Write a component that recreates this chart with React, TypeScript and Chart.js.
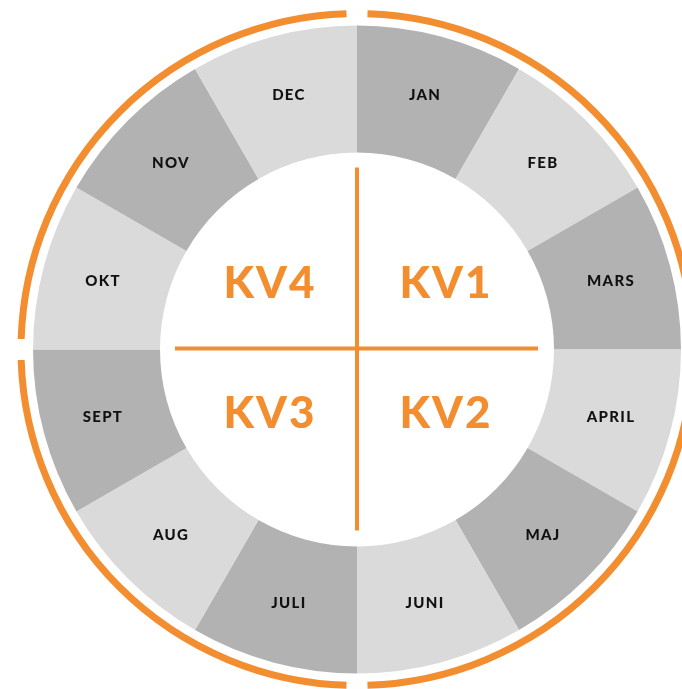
import React, { useEffect, useRef } from "react";
import { Chart, registerables } from "chart.js";

Chart.register(...registerables);

const months = ["JAN", "FEB", "MARS", "APRIL", "MAJ", "JUNI", "JULI", "AUG", "SEPT", "OKT", "NOV", "DEC"];
const monthValues = [1, 1, 1, 1, 1, 1, 1, 1, 1, 1, 1, 1];
const quarterLabels = ["KV1", "KV2", "KV3", "KV4"];

const DARK = "#b2b2b2";
const LIGHT = "#dadada";
const ORANGE = "#f28d30";

const overlayPlugin = {
  id: "overlay",
  afterDatasetsDraw(chart: any) {
    const ctx = chart.ctx;
    const meta = chart.getDatasetMeta(0);
    const arc0 = meta.data[0];
    const cx = arc0.x;
    const cy = arc0.y;
    const outer = arc0.outerRadius;
    ctx.save();
    // month labels
    ctx.fillStyle = "#111";
    ctx.font = "900 15px Lato, 'Open Sans', sans-serif";
    ctx.textAlign = "center";
    ctx.textBaseline = "middle";
    try { (ctx as any).letterSpacing = "1.3px"; } catch (e) {}
    const rLab = 263;
    meta.data.forEach((el: any, i: number) => {
      const mid = (el.startAngle + el.endAngle) / 2;
      const x = cx + Math.cos(mid) * rLab;
      const y = cy + Math.sin(mid) * rLab;
      ctx.fillText(months[i], x, y);
    });
    // outer orange ring
    const ringR = outer + 12;
    const gap = 10.5 / ringR;
    ctx.strokeStyle = ORANGE;
    ctx.lineWidth = 7;
    for (let k = 0; k < 4; k++) {
      const a0 = -Math.PI / 2 + (k * Math.PI) / 2 + gap;
      const a1 = -Math.PI / 2 + ((k + 1) * Math.PI) / 2 - gap;
      ctx.beginPath();
      ctx.arc(cx, cy, ringR, a0, a1);
      ctx.stroke();
    }
    // cross
    ctx.lineWidth = 4;
    ctx.beginPath();
    ctx.moveTo(cx - 182, cy - 1);
    ctx.lineTo(cx + 181, cy - 1);
    ctx.moveTo(cx, cy - 182);
    ctx.lineTo(cx, cy + 181);
    ctx.stroke();
    // quarter labels
    ctx.fillStyle = ORANGE;
    ctx.font = "900 44px Lato, 'Open Sans', sans-serif";
    try { (ctx as any).letterSpacing = "2px"; } catch (e) {}
    const pos = [
      [89, -66],
      [89, 64],
      [-87, 64],
      [-87, -66],
    ];
    quarterLabels.forEach((t, i) => {
      ctx.fillText(t, cx + pos[i][0], cy + pos[i][1]);
    });
    ctx.restore();
  },
};

export default function App() {
  const ref = useRef<HTMLCanvasElement>(null);
  useEffect(() => {
    if (!ref.current) return;
    const chart = new Chart(ref.current, {
      type: "doughnut",
      data: {
        labels: months,
        datasets: [
          {
            data: monthValues,
            backgroundColor: months.map((_, i) => (i % 2 === 0 ? DARK : LIGHT)),
            borderWidth: 0,
            hoverOffset: 0,
          },
        ],
      },
      options: {
        responsive: false,
        animation: false,
        cutout: "60.8%",
        layout: { padding: { left: 33, right: 1, top: 25.5, bottom: 15.5 } },
        plugins: { legend: { display: false }, tooltip: { enabled: false } },
        events: [],
      },
      plugins: [overlayPlugin],
    });
    return () => chart.destroy();
  }, []);
  return (
    <div style={{ position: "absolute", left: 0, top: 0, width: 682, height: 689, background: "#fff", overflow: "hidden" }}>
      <canvas ref={ref} width={682} height={689} style={{ width: 682, height: 689, display: "block" }} />
    </div>
  );
}
